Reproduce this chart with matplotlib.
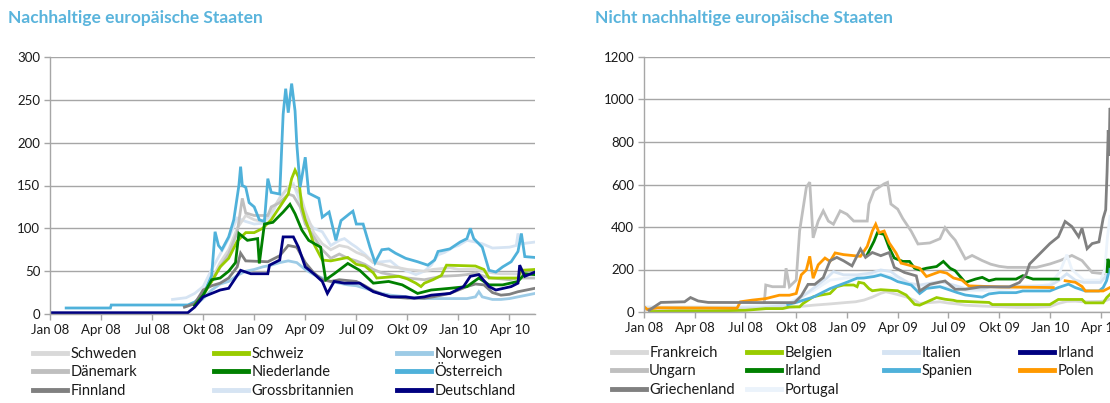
import matplotlib
matplotlib.use("Agg")
import matplotlib.pyplot as plt
from matplotlib.lines import Line2D
import numpy as np

plt.rcParams['font.family'] = ['Lato', 'DejaVu Sans']

# ---------------- data (x = months since Jan 2008) ----------------
tick_months = [0, 3, 6, 9, 12, 15, 18, 21, 24, 27]
tick_labels = ['Jan 08', 'Apr 08', 'Jul 08', 'Okt 08', 'Jan 09', 'Apr 09',
               'Jul 09', 'Okt 09', 'Jan 10', 'Apr 10']
left_yticks = [0, 50, 100, 150, 200, 250, 300]
right_yticks = [0, 200, 400, 600, 800, 1000, 1200]

# --- left panel: sustainable states ---
schweden = [(8.5, 12), (9, 22), (9.5, 40), (10, 60), (10.5, 75), (11, 100), (11.5, 115), (12, 110),
            (12.5, 108), (13, 120), (13.5, 135), (14, 148), (14.3, 150), (14.7, 140), (15, 120),
            (15.5, 95), (16, 82), (16.5, 75), (17, 80), (17.5, 78), (18, 72), (18.5, 68), (19, 60),
            (19.5, 58), (20, 55), (20.5, 54), (21, 52), (21.5, 51), (22, 50), (22.5, 52), (23, 53),
            (23.5, 54), (24, 52), (25, 52), (25.5, 50), (26, 48), (26.5, 47), (27, 47), (28.5, 46)]
daenemark = [(8.5, 12), (9, 25), (9.5, 38), (10, 55), (10.5, 70), (11, 95), (11.3, 135), (11.5, 118),
             (12, 115), (12.8, 115), (13, 125), (13.5, 130), (14, 140), (14.3, 138), (14.7, 125),
             (15, 105), (15.5, 90), (16, 75), (16.5, 65), (17, 70), (17.5, 65), (18, 62), (18.5, 58),
             (19, 52), (19.5, 48), (20, 46), (20.5, 44), (21, 42), (22, 40), (22.5, 42), (23, 44),
             (24, 45), (24.5, 46), (25, 48), (25.5, 44), (26, 42), (27, 40), (27.5, 42), (28.5, 42)]
finnland = [(7.9, 8), (8.5, 12), (9, 28), (9.5, 33), (10, 36), (10.5, 42), (11, 55), (11.2, 71),
            (11.5, 62), (12.8, 61), (13, 63), (13.5, 68), (14, 80), (14.5, 78), (15, 60), (15.5, 48),
            (16, 40), (16.5, 38), (17, 40), (18, 38), (18.5, 33), (19, 27), (19.5, 23), (20, 20),
            (21, 18.5), (22, 18.5), (22.5, 20), (23, 22), (23.5, 24), (24, 28), (24.5, 32), (25, 35),
            (25.5, 34), (26, 25), (26.5, 22), (27, 23), (27.5, 26), (28, 28), (28.5, 30)]
schweiz = [(8.5, 10), (9, 22), (9.5, 38), (10, 55), (10.5, 65), (11, 85), (11.5, 95), (12, 95),
           (12.5, 100), (13, 110), (13.5, 125), (14, 140), (14.2, 158), (14.4, 168), (14.6, 160),
           (14.8, 125), (15, 110), (15.2, 100), (15.5, 82), (16, 63), (16.5, 62), (17, 64), (17.5, 66),
           (18, 58), (18.5, 56), (19, 48), (19.2, 42), (20.5, 44), (21, 41), (21.5, 36), (21.8, 32),
           (22, 36), (22.5, 40), (23, 45), (23.3, 57), (25, 56), (25.5, 52), (25.8, 42), (27.5, 42),
           (27.7, 51), (28.5, 52)]
niederlande = [(8.5, 10), (9, 22), (9.5, 40), (10, 42), (10.5, 50), (10.9, 60), (11.1, 94), (11.6, 86),
               (12.2, 88), (12.3, 59), (12.6, 105), (13.1, 107), (13.7, 119), (14.1, 128), (14.4, 117),
               (14.8, 98), (15.2, 86), (15.9, 78), (16.2, 40), (16.7, 47), (17.5, 59), (18.2, 51),
               (19, 36), (19.9, 38), (20.7, 34), (21.6, 24), (22.4, 28), (23.5, 30), (24.5, 32),
               (25.2, 42), (25.8, 34), (26.6, 34), (27.5, 38), (27.9, 47), (28.5, 46)]
grossbritannien = [(7.2, 17), (8, 19), (8.5, 24), (9, 32), (9.5, 52), (10, 70), (10.5, 88), (11, 112),
                   (11.5, 108), (12, 105), (12.5, 106), (13, 115), (13.5, 136), (14, 148), (14.3, 152),
                   (14.6, 136), (15, 112), (15.5, 100), (16, 96), (16.5, 80), (17, 86), (17.3, 88),
                   (17.7, 82), (18, 78), (18.5, 70), (19, 60), (20, 62), (20.5, 54), (21, 50),
                   (21.5, 46), (22, 50), (22.4, 57), (22.8, 69), (23.2, 72), (23.7, 78), (24, 80),
                   (24.5, 86), (25, 84), (25.4, 82), (26, 77), (27, 78), (27.4, 80), (27.5, 94),
                   (27.7, 82), (28.5, 84)]
oesterreich = [(0.95, 7), (3.55, 7), (3.6, 10.5), (8.1, 10.5), (8.5, 14), (9, 22), (9.5, 45),
               (9.7, 96), (9.9, 80), (10.1, 75), (10.5, 90), (10.8, 110), (11.1, 150), (11.2, 172),
               (11.3, 150), (11.5, 148), (11.7, 130), (12, 125), (12.3, 110), (12.6, 108),
               (12.8, 158), (13, 142), (13.5, 140), (13.6, 187), (13.7, 233), (13.85, 263), (14, 235),
               (14.2, 269), (14.4, 237), (14.5, 199), (14.7, 148), (15, 183), (15.2, 141),
               (15.8, 135), (16, 113), (16.4, 119), (16.8, 86), (17.1, 109), (17.6, 117),
               (17.8, 120), (18, 105), (18.4, 105), (18.8, 78), (19.1, 60), (19.5, 75), (19.9, 76),
               (20.3, 71), (20.9, 65), (21.6, 61), (22.2, 57), (22.6, 63), (22.8, 73), (23.5, 76),
               (24.1, 84), (24.5, 88), (24.7, 100), (24.9, 88), (25.4, 78), (25.8, 51), (26.2, 49),
               (26.6, 55), (27.1, 61), (27.5, 73), (27.7, 94), (27.9, 67), (28.5, 66)]
norwegen = [(8.5, 10), (9, 18), (9.5, 28), (10, 35), (10.5, 38), (11, 45), (11.5, 50), (12, 52),
            (12.5, 55), (13, 57), (13.5, 60), (14, 62), (14.5, 60), (15, 52), (15.5, 46), (16, 42),
            (16.5, 38), (17, 36), (17.5, 34), (18, 33), (18.5, 30), (19, 27), (19.5, 24), (20, 22),
            (20.5, 21), (21, 20), (21.5, 19), (22, 18), (24.5, 18), (25, 20), (25.2, 26), (25.4, 20),
            (26, 17), (26.5, 17), (27, 18), (27.5, 20), (28, 22), (28.5, 24)]
deutschland = [(0, 1.5), (8.1, 1.5), (8.5, 8), (9, 20), (9.5, 24), (10, 28), (10.5, 30), (11, 45),
               (11.2, 51), (11.8, 47), (12.8, 47), (12.9, 57), (13.5, 63), (13.7, 90), (14.3, 90),
               (14.6, 78), (15, 55), (15.5, 47), (16, 38), (16.3, 24), (16.7, 38), (17.3, 36),
               (18.2, 36), (18.5, 32), (19, 26), (19.5, 23), (20, 20), (20.9, 20), (21.4, 18.5),
               (22, 20), (22.4, 22), (23.5, 24), (24.3, 32), (24.7, 44), (25.2, 46), (25.8, 32),
               (26.2, 28), (27.1, 32), (27.5, 36), (27.6, 57), (27.9, 44), (28.5, 49)]

# --- right panel: non-sustainable states ---
frankreich = [(0, 10), (2, 12), (5, 12), (6, 14), (7, 15), (8, 18), (8.5, 20), (9, 25), (9.5, 28),
              (10, 32), (11, 38), (12, 45), (12.5, 48), (13, 56), (13.5, 70), (14, 88), (14.3, 95),
              (14.6, 90), (15, 82), (15.5, 71), (16, 55), (16.3, 40), (17, 45), (17.5, 48), (18, 42),
              (18.5, 38), (19, 32), (20, 28), (21, 25), (22, 22), (23, 22), (24, 25), (24.5, 40),
              (25, 50), (25.5, 51), (26, 48), (27, 50), (27.25, 52), (27.5, 60), (28, 67)]
ungarn = [(7.1, 30), (7.2, 127), (7.6, 119), (8.3, 119), (8.4, 206), (8.6, 119), (9, 150), (9.2, 381),
          (9.6, 587), (9.8, 611), (10, 349), (10.3, 428), (10.6, 476), (10.9, 428), (11.2, 413),
          (11.6, 476), (12, 460), (12.4, 428), (13.2, 428), (13.3, 508), (13.6, 571), (14.2, 603),
          (14.4, 610), (14.6, 508), (15, 484), (15.3, 440), (15.8, 380), (16.2, 320), (16.9, 325),
          (17.5, 345), (17.8, 397), (18.1, 365), (18.4, 338), (19, 250), (19.4, 266), (20, 242),
          (20.5, 225), (21, 215), (21.5, 210), (23.2, 210), (24, 226), (24.6, 242), (25.3, 266),
          (25.9, 242), (26.5, 186), (27.2, 180)]
griechenland = [(0.3, 8), (0.9, 40), (1, 45), (2.4, 48), (2.75, 68), (3.2, 52), (3.8, 45), (8.9, 44),
                (9.3, 76), (9.7, 130), (10.1, 130), (10.6, 162), (11, 241), (11.4, 257), (11.8, 241),
                (12.3, 217), (12.8, 296), (13.1, 257), (13.5, 280), (14, 265), (14.5, 280),
                (14.8, 210), (15.4, 186), (16.1, 170), (16.3, 99), (16.9, 130), (17.8, 146),
                (18.4, 107), (19, 107), (19.9, 118), (21.6, 118), (22.2, 139), (22.6, 178),
                (22.8, 226), (23.4, 274), (24, 322), (24.5, 354), (24.9, 426), (25.3, 402),
                (25.7, 354), (25.9, 394), (26.2, 298), (26.5, 322), (26.9, 330), (27.15, 441),
                (27.3, 481), (27.38, 657), (27.45, 856), (27.5, 736), (27.55, 960), (28, 900)]
belgien = [(0.4, 2), (2, 5), (4, 5), (6, 8), (7.2, 16), (8.2, 16), (8.6, 24), (9.2, 24), (9.4, 40),
           (10, 71), (10.4, 79), (11, 87), (11.4, 119), (11.8, 127), (12.4, 127), (12.6, 119),
           (12.7, 140), (13, 135), (13.3, 110), (13.5, 100), (14, 105), (15, 100), (15.5, 80),
           (16, 36), (16.3, 32), (17.3, 68), (17.8, 60), (18.3, 55), (18.5, 51), (20.4, 45),
           (20.6, 35), (24, 35), (24.5, 59), (25.9, 59), (26.1, 43), (27.15, 43), (27.35, 67),
           (27.55, 83)]
irland_gruen = [(13.2, 270), (13.6, 333), (13.8, 373), (14.2, 365), (14.5, 302), (14.8, 254),
                (15.3, 238), (15.7, 238), (16, 206), (16.3, 198), (16.7, 206), (17.3, 214),
                (17.7, 238), (18.1, 206), (18.4, 194), (19, 139), (19.6, 155), (20, 163),
                (20.4, 147), (20.8, 155), (22, 155), (22.4, 171), (23, 155), (24.5, 155),
                (24.6, None), (27.38, 190), (27.43, 250), (27.55, 215)]
portugal = [(0, 25), (6, 25), (8.5, 40), (9.2, 70), (10, 100), (11, 150), (12, 160), (13, 165),
            (14, 180), (15, 160), (16, 120), (17, 125), (18, 115), (19, 100), (20, 100), (22, 110),
            (24, 130), (24.6, 190), (25, 270), (25.3, 200), (26, 150), (27, 150), (27.25, 200),
            (27.4, 350), (27.55, 450)]
italien = [(0, 20), (3, 22), (6, 20), (6.8, 20), (8.4, 32), (9.2, 63), (10, 111), (10.8, 159),
           (11.2, 190), (11.8, 175), (12.6, 175), (13.4, 183), (14, 198), (14.6, 190), (15, 167),
           (15.7, 135), (16.3, 127), (17.5, 143), (18.3, 127), (19, 110), (20, 107), (20.5, 120),
           (24, 123), (24.5, 147), (25, 180), (25.5, 150), (26, 139), (27, 139), (27.25, 163),
           (27.55, 200)]
spanien = [(8.5, 35), (9, 45), (10, 70), (11, 110), (12, 140), (12.6, 159), (13, 160), (13.6, 167),
           (14, 175), (14.6, 159), (15, 143), (15.8, 127), (16.3, 87), (16.7, 111), (17.5, 119),
           (18.1, 103), (18.5, 92), (19, 80), (20, 70), (20.4, 85), (21, 91), (22, 91), (22.4, 99),
           (24, 99), (24.5, 115), (25.1, 131), (25.5, 115), (26.1, 99), (26.9, 99), (27.15, 115),
           (27.35, 147), (27.5, 194), (27.55, 220)]
polen = [(0, 25), (0.2, 12), (0.8, 20), (5.5, 18), (5.7, 48), (6.4, 56), (7.2, 63), (8, 79),
         (8.6, 79), (9, 87), (9.3, 175), (9.6, 198), (9.8, 262), (10, 159), (10.3, 222), (10.7, 254),
         (11, 238), (11.3, 278), (11.8, 270), (12.8, 262), (13.2, 309), (13.5, 381), (13.7, 413),
         (13.9, 373), (14.2, 381), (14.5, 325), (14.9, 278), (15.2, 230), (15.6, 222), (16.3, 206),
         (16.7, 167), (17.5, 190), (17.9, 183), (18.3, 160), (18.8, 150), (19.2, 123), (21, 118),
         (24.2, 115), (24.4, None), (24.9, 147), (25.5, 140), (25.9, 120), (26.1, 99), (27.15, 99),
         (27.35, 107), (27.55, 115)]
irland_navy = []

# ---------------- styling ----------------
W, H = 1110, 403
fig = plt.figure(figsize=(W / 100, H / 100), dpi=100)
fig.patch.set_facecolor('white')

TITLE_C = '#5ab4dc'
GRID_C = '#a6a6a6'

C = {
    'Schweden': '#d9d9d9', 'Schweiz': '#99cc00', 'Norwegen': '#9dcbe6',
    'Dänemark': '#bfbfbf', 'Niederlande': '#008000', 'Österreich': '#4fb1da',
    'Finnland': '#808080', 'Grossbritannien': '#d6e4f3', 'Deutschland': '#000080',
    'Frankreich': '#d9d9d9', 'Belgien': '#99cc00', 'Italien': '#d6e4f3',
    'Irland_n': '#000080', 'Ungarn': '#bfbfbf', 'Irland_g': '#008000',
    'Spanien': '#4fb1da', 'Polen': '#ff9900', 'Griechenland': '#808080',
    'Portugal': '#ebf3fb',
}


def xy(pts):
    m = np.array([p[0] for p in pts], dtype=float)
    v = np.array([np.nan if p[1] is None else p[1] for p in pts], dtype=float)
    return m, v


def style_axes(ax, yticks):
    ax.set_xlim(0, 28.5)
    ax.set_ylim(yticks[0], yticks[-1])
    ax.set_yticks(yticks)
    ax.set_xticks(tick_months)
    ax.set_xticklabels(tick_labels)
    ax.grid(axis='y', color=GRID_C, linewidth=1.0)
    ax.set_axisbelow(True)
    for s in ['top', 'right']:
        ax.spines[s].set_visible(False)
    for s in ['left', 'bottom']:
        ax.spines[s].set_color(GRID_C)
        ax.spines[s].set_linewidth(1.0)
    ax.tick_params(axis='both', direction='out', length=4, width=1, color=GRID_C,
                   labelsize=9.5, labelcolor='#1a1a1a', pad=3)
    ax.set_facecolor('none')


ax1 = fig.add_axes([50 / W, (H - 314) / H, 485 / W, (314 - 57) / H])
ax2 = fig.add_axes([644 / W, (H - 312) / H, 482 / W, (312 - 57) / H])

LW = 2.0
left_draw = [('Grossbritannien', grossbritannien), ('Schweden', schweden), ('Dänemark', daenemark),
             ('Norwegen', norwegen), ('Schweiz', schweiz), ('Österreich', oesterreich),
             ('Finnland', finnland), ('Niederlande', niederlande), ('Deutschland', deutschland)]
for name, pts in left_draw:
    m, v = xy(pts)
    ax1.plot(m, v, color=C[name], lw=LW, solid_joinstyle='miter')

right_draw = [('Ungarn', ungarn), ('Portugal', portugal), ('Italien', italien),
              ('Frankreich', frankreich), ('Belgien', belgien), ('Spanien', spanien),
              ('Irland_g', irland_gruen), ('Polen', polen), ('Griechenland', griechenland),
              ('Irland_n', irland_navy)]
for name, pts in right_draw:
    if pts:
        m, v = xy(pts)
        ax2.plot(m, v, color=C[name], lw=LW, solid_joinstyle='miter')

style_axes(ax1, left_yticks)
style_axes(ax2, right_yticks)

fig.text(8 / W, 1 - 18 / H, 'Nachhaltige europäische Staaten', ha='left', va='center',
         color=TITLE_C, fontsize=12.5, fontweight='bold')
fig.text(595 / W, 1 - 18 / H, 'Nicht nachhaltige europäische Staaten', ha='left', va='center',
         color=TITLE_C, fontsize=12.5, fontweight='bold')


def column_legend(entries, x_px, y_px):
    handles = [Line2D([], [], color=C[k], lw=3.5) for k, _ in entries]
    labels = [lab for _, lab in entries]
    fig.legend(handles, labels, loc='upper left', bbox_to_anchor=(x_px / W, 1 - y_px / H),
               frameon=False, fontsize=10.5, handlelength=2.3, handletextpad=0.25,
               borderpad=0, borderaxespad=0, labelspacing=0.3, labelcolor='#1a1a1a')


column_legend([('Schweden', 'Schweden'), ('Dänemark', 'Dänemark'), ('Finnland', 'Finnland')], 33, 347)
column_legend([('Schweiz', 'Schweiz'), ('Niederlande', 'Niederlande'),
               ('Grossbritannien', 'Grossbritannien')], 214, 347)
column_legend([('Norwegen', 'Norwegen'), ('Österreich', 'Österreich'),
               ('Deutschland', 'Deutschland')], 397, 347)
column_legend([('Frankreich', 'Frankreich'), ('Ungarn', 'Ungarn'),
               ('Griechenland', 'Griechenland')], 612, 346)
column_legend([('Belgien', 'Belgien'), ('Irland_g', 'Irland'), ('Portugal', 'Portugal')], 747, 346)
column_legend([('Italien', 'Italien'), ('Spanien', 'Spanien')], 884, 346)
column_legend([('Irland_n', 'Irland'), ('Polen', 'Polen')], 1020, 346)

fig.savefig('out.png', dpi=100)
